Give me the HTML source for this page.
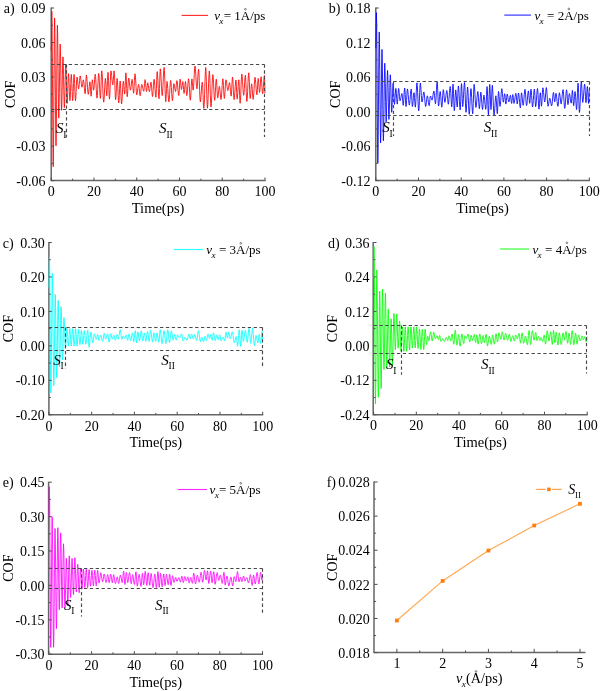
<!DOCTYPE html>
<html><head><meta charset="utf-8"><title>COF vs time</title>
<style>
html,body{margin:0;padding:0;background:#fff;}
svg{display:block;will-change:transform;opacity:0.999;}
svg text{font-family:"Liberation Serif", serif;font-size:14px;fill:#000;}
</style></head>
<body>
<svg width="602" height="691" viewBox="0 0 602 691">
<rect width="602" height="691" fill="#fff"/>
<path d="M51.20,7.50 V180.60 H265.50" stroke="#666666" stroke-width="1.50" fill="none" stroke-linecap="butt" stroke-linejoin="miter"/>
<polyline points="51.20,50.57 51.33,46.84 51.46,37.06 51.58,24.97 51.71,15.19 51.84,11.45 52.12,26.28 52.40,65.08 52.68,113.05 52.95,151.86 53.23,166.68 53.51,152.49 53.79,115.34 54.06,69.42 54.34,32.27 54.62,18.08 54.90,30.28 55.18,62.21 55.45,101.68 55.73,133.61 56.01,145.80 56.29,134.29 56.57,104.16 56.84,66.91 57.12,36.77 57.40,25.26 57.68,34.13 57.96,57.35 58.23,86.06 58.51,109.28 58.79,118.15 59.07,111.08 59.35,92.57 59.62,69.69 59.90,51.18 60.18,44.11 60.46,50.43 60.74,66.98 61.01,87.44 61.29,103.99 61.57,110.31 61.85,105.21 62.13,91.86 62.40,75.35 62.68,62.00 62.96,56.90 63.24,61.75 63.51,74.44 63.79,90.13 64.07,102.82 64.35,107.67 64.63,103.53 64.90,92.71 65.18,79.34 65.46,68.52 65.74,64.38 66.02,68.11 66.29,77.88 66.57,89.95 66.85,99.71 67.13,103.44 67.41,100.60 67.68,93.17 67.96,83.97 68.24,76.54 68.52,73.70 68.80,76.27 69.07,83.02 69.35,91.35 69.63,98.09 69.91,100.67 70.19,98.16 70.46,91.60 70.74,83.48 71.02,76.92 71.30,74.41 71.58,76.92 71.85,83.48 72.13,91.60 72.41,98.16 72.69,100.67 72.96,98.16 73.24,91.60 73.52,83.48 73.80,76.92 74.08,74.41 74.35,76.93 74.63,83.52 74.91,91.67 75.19,98.26 75.47,100.78 75.77,98.51 76.08,92.56 76.38,85.21 76.69,79.26 77.00,76.99 77.32,78.12 77.65,81.09 77.97,84.75 78.30,87.71 78.62,88.84 78.93,87.61 79.25,84.37 79.56,80.38 79.87,77.14 80.19,75.91 80.54,76.99 80.90,79.82 81.26,83.32 81.61,86.15 81.97,87.23 82.25,86.52 82.53,84.66 82.81,82.37 83.09,80.51 83.37,79.80 83.73,81.13 84.09,84.62 84.45,88.93 84.81,92.41 85.17,93.74 85.41,91.95 85.65,87.25 85.89,81.44 86.13,76.74 86.37,74.94 86.76,76.80 87.14,81.65 87.52,87.64 87.91,92.49 88.29,94.34 88.62,93.14 88.95,89.99 89.28,86.11 89.61,82.96 89.94,81.76 90.17,83.14 90.41,86.76 90.64,91.23 90.88,94.84 91.12,96.22 91.36,94.65 91.60,90.52 91.84,85.42 92.09,81.29 92.33,79.72 92.60,80.72 92.87,83.33 93.14,86.56 93.41,89.17 93.68,90.17 93.99,88.65 94.30,84.68 94.60,79.76 94.91,75.79 95.21,74.27 95.58,76.55 95.94,82.52 96.31,89.90 96.67,95.87 97.04,98.15 97.37,95.79 97.70,89.62 98.04,82.00 98.37,75.83 98.70,73.48 99.04,75.85 99.37,82.07 99.71,89.76 100.05,95.98 100.38,98.36 100.66,95.72 100.94,88.83 101.21,80.30 101.49,73.40 101.77,70.77 102.16,73.76 102.55,81.61 102.93,91.31 103.32,99.16 103.71,102.16 104.05,99.89 104.40,93.94 104.74,86.60 105.08,80.66 105.43,78.39 105.70,80.04 105.97,84.37 106.24,89.71 106.51,94.04 106.77,95.69 107.02,93.46 107.26,87.61 107.51,80.39 107.75,74.55 108.00,72.32 108.29,74.88 108.59,81.58 108.88,89.87 109.18,96.57 109.48,99.13 109.77,96.44 110.06,89.37 110.36,80.63 110.65,73.56 110.94,70.86 111.31,72.19 111.67,75.67 112.04,79.98 112.41,83.46 112.77,84.79 113.04,83.46 113.30,79.98 113.57,75.67 113.83,72.19 114.10,70.86 114.41,73.61 114.71,80.81 115.02,89.72 115.33,96.92 115.63,99.67 115.93,97.64 116.22,92.32 116.52,85.75 116.82,80.43 117.11,78.40 117.44,80.74 117.77,86.86 118.11,94.43 118.44,100.55 118.77,102.89 119.04,100.80 119.32,95.32 119.59,88.55 119.87,83.07 120.15,80.98 120.43,83.16 120.72,88.88 121.00,95.94 121.29,101.66 121.57,103.85 121.92,101.70 122.27,96.06 122.63,89.10 122.98,83.47 123.33,81.32 123.60,82.53 123.87,85.71 124.14,89.65 124.42,92.83 124.69,94.04 124.93,92.02 125.17,86.71 125.42,80.16 125.66,74.86 125.90,72.83 126.16,75.11 126.42,81.09 126.69,88.47 126.95,94.45 127.21,96.73 127.51,94.95 127.81,90.28 128.12,84.51 128.42,79.85 128.72,78.06 129.07,79.22 129.42,82.25 129.77,85.99 130.11,89.01 130.46,90.17 130.79,89.13 131.13,86.42 131.46,83.06 131.79,80.35 132.13,79.32 132.43,80.65 132.73,84.13 133.03,88.44 133.32,91.93 133.62,93.26 133.90,91.40 134.17,86.52 134.45,80.49 134.72,75.61 135.00,73.74 135.36,75.76 135.72,81.03 136.08,87.55 136.43,92.82 136.79,94.84 137.16,93.84 137.54,91.23 137.91,88.01 138.28,85.40 138.65,84.40 138.94,85.48 139.24,88.31 139.53,91.81 139.83,94.64 140.12,95.72 140.46,94.64 140.79,91.80 141.12,88.30 141.46,85.46 141.79,84.38 142.18,85.04 142.56,86.77 142.95,88.92 143.34,90.65 143.73,91.32 144.00,90.20 144.27,87.27 144.55,83.64 144.82,80.71 145.10,79.59 145.38,80.73 145.66,83.70 145.95,87.37 146.23,90.34 146.52,91.47 146.76,90.64 147.01,88.44 147.25,85.74 147.50,83.54 147.74,82.71 148.07,83.57 148.39,85.82 148.72,88.60 149.04,90.85 149.36,91.71 149.69,90.80 150.02,88.41 150.35,85.47 150.67,83.08 151.00,82.17 151.30,83.54 151.61,87.13 151.91,91.57 152.22,95.16 152.52,96.53 152.83,94.88 153.14,90.57 153.45,85.24 153.75,80.93 154.06,79.28 154.43,81.00 154.80,85.50 155.17,91.06 155.54,95.56 155.91,97.28 156.16,94.83 156.42,88.41 156.68,80.48 156.93,74.07 157.19,71.62 157.55,74.21 157.91,80.99 158.27,89.38 158.64,96.16 159.00,98.75 159.26,95.89 159.52,88.42 159.79,79.17 160.05,71.69 160.31,68.84 160.69,71.39 161.07,78.07 161.45,86.32 161.83,93.00 162.21,95.55 162.59,92.86 162.97,85.82 163.35,77.13 163.74,70.09 164.12,67.41 164.44,70.68 164.77,79.25 165.10,89.85 165.43,98.42 165.75,101.69 166.00,99.76 166.25,94.70 166.50,88.45 166.75,83.39 167.00,81.46 167.39,83.41 167.77,88.51 168.15,94.82 168.54,99.92 168.92,101.87 169.26,99.83 169.61,94.49 169.95,87.88 170.29,82.54 170.63,80.49 171.00,82.42 171.36,87.45 171.72,93.67 172.08,98.71 172.44,100.63 172.72,99.01 173.00,94.77 173.28,89.52 173.56,85.28 173.84,83.66 174.18,84.41 174.53,86.39 174.88,88.83 175.22,90.80 175.57,91.55 175.84,90.51 176.10,87.77 176.37,84.38 176.64,81.65 176.91,80.60 177.28,82.02 177.64,85.74 178.01,90.34 178.38,94.06 178.74,95.48 179.02,93.92 179.30,89.85 179.57,84.81 179.85,80.74 180.13,79.18 180.39,80.17 180.66,82.76 180.92,85.95 181.19,88.54 181.45,89.52 181.73,88.76 182.00,86.77 182.28,84.32 182.56,82.33 182.83,81.57 183.07,82.71 183.32,85.69 183.56,89.37 183.80,92.35 184.05,93.48 184.34,92.34 184.63,89.34 184.92,85.64 185.21,82.64 185.50,81.50 185.75,82.84 186.01,86.37 186.26,90.73 186.52,94.26 186.77,95.61 187.14,94.00 187.51,89.78 187.89,84.56 188.26,80.34 188.63,78.73 188.97,80.79 189.30,86.17 189.64,92.82 189.97,98.19 190.31,100.25 190.63,98.21 190.96,92.88 191.28,86.28 191.61,80.94 191.93,78.91 192.17,79.98 192.41,82.81 192.65,86.30 192.89,89.13 193.13,90.21 193.50,87.90 193.88,81.85 194.25,74.38 194.63,68.33 195.00,66.02 195.38,68.20 195.77,73.90 196.15,80.94 196.53,86.64 196.92,88.82 197.25,86.95 197.58,82.06 197.92,76.02 198.25,71.14 198.58,69.27 198.93,72.38 199.27,80.51 199.62,90.57 199.97,98.71 200.32,101.81 200.71,99.94 201.09,95.04 201.48,88.98 201.87,84.07 202.26,82.20 202.58,84.70 202.90,91.24 203.22,99.32 203.53,105.86 203.85,108.36 204.23,104.45 204.60,94.22 204.97,81.57 205.35,71.34 205.72,67.43 206.06,71.32 206.41,81.52 206.75,94.13 207.09,104.32 207.44,108.22 207.81,104.65 208.19,95.32 208.56,83.79 208.94,74.46 209.32,70.90 209.66,74.34 210.00,83.36 210.34,94.50 210.68,103.51 211.02,106.95 211.39,103.87 211.75,95.79 212.12,85.81 212.49,77.73 212.86,74.64 213.22,77.10 213.57,83.53 213.93,91.47 214.29,97.90 214.64,100.35 214.97,98.33 215.29,93.03 215.61,86.48 215.93,81.18 216.26,79.16 216.55,80.95 216.84,85.62 217.14,91.40 217.43,96.08 217.72,97.86 218.05,96.75 218.38,93.84 218.71,90.25 219.04,87.34 219.36,86.23 219.70,87.49 220.03,90.81 220.36,94.91 220.70,98.23 221.03,99.49 221.40,97.51 221.77,92.32 222.14,85.91 222.51,80.72 222.88,78.74 223.17,80.62 223.47,85.54 223.76,91.62 224.06,96.53 224.35,98.41 224.67,96.64 225.00,91.98 225.32,86.23 225.65,81.58 225.97,79.80 226.33,80.83 226.70,83.54 227.06,86.88 227.43,89.58 227.79,90.62 228.14,89.85 228.49,87.85 228.84,85.38 229.19,83.37 229.54,82.61 229.87,83.90 230.19,87.28 230.52,91.47 230.85,94.85 231.18,96.14 231.44,94.32 231.71,89.56 231.98,83.67 232.25,78.91 232.52,77.09 232.83,79.24 233.14,84.86 233.45,91.82 233.77,97.45 234.08,99.60 234.45,97.73 234.83,92.85 235.21,86.81 235.58,81.93 235.96,80.06 236.20,81.88 236.43,86.64 236.67,92.53 236.90,97.29 237.14,99.11 237.48,97.26 237.81,92.42 238.15,86.43 238.49,81.59 238.83,79.74 239.09,81.98 239.35,87.86 239.61,95.13 239.87,101.01 240.13,103.26 240.47,100.47 240.80,93.17 241.14,84.15 241.48,76.85 241.81,74.06 242.18,76.09 242.56,81.40 242.93,87.96 243.30,93.27 243.67,95.30 244.01,93.38 244.35,88.37 244.68,82.18 245.02,77.16 245.36,75.25 245.66,77.76 245.96,84.32 246.26,92.44 246.56,99.00 246.86,101.51 247.24,98.77 247.61,91.59 247.99,82.73 248.36,75.56 248.74,72.82 249.03,75.27 249.33,81.69 249.62,89.63 249.91,96.06 250.21,98.51 250.49,97.11 250.77,93.44 251.05,88.90 251.34,85.23 251.62,83.83 251.93,85.31 252.24,89.20 252.55,94.00 252.86,97.88 253.17,99.36 253.54,97.26 253.91,91.75 254.27,84.94 254.64,79.42 255.00,77.32 255.38,79.00 255.76,83.38 256.15,88.81 256.53,93.20 256.91,94.88 257.17,93.30 257.43,89.18 257.69,84.08 257.95,79.96 258.21,78.38 258.48,79.73 258.76,83.26 259.04,87.62 259.31,91.15 259.59,92.50 259.89,90.99 260.18,87.04 260.48,82.16 260.78,78.21 261.08,76.70 261.39,78.32 261.70,82.56 262.01,87.80 262.32,92.04 262.63,93.66 262.99,91.93 263.36,87.40 263.72,81.80 264.09,77.27 264.45,75.54 264.56,77.23 264.67,81.65 264.78,87.12 264.89,91.54 265.00,93.23" fill="none" stroke="#ff0000" stroke-width="0.85" stroke-linejoin="miter" stroke-miterlimit="3"/>
<path d="M51.2,64.5 H264.5" stroke="#484848" stroke-width="1.15" stroke-dasharray="3.3,2.55" fill="none"/>
<path d="M51.2,109.5 H264.5" stroke="#484848" stroke-width="1.15" stroke-dasharray="3.3,2.55" fill="none"/>
<path d="M66.5,64.5 V137.5" stroke="#484848" stroke-width="1.15" stroke-dasharray="3.3,2.55" fill="none"/>
<path d="M264.5,64.5 V137.0" stroke="#484848" stroke-width="1.15" stroke-dasharray="3.3,2.55" fill="none"/>
<path d="M51.20,180.60 h2.9" stroke="#4f4f4f" stroke-width="1.0"/>
<text x="45.4" y="185.7" text-anchor="end">-0.06</text>
<path d="M51.20,163.34 h1.9" stroke="#4f4f4f" stroke-width="1"/>
<path d="M51.20,146.08 h2.9" stroke="#4f4f4f" stroke-width="1.0"/>
<text x="45.4" y="151.2" text-anchor="end">-0.03</text>
<path d="M51.20,128.82 h1.9" stroke="#4f4f4f" stroke-width="1"/>
<path d="M51.20,111.56 h2.9" stroke="#4f4f4f" stroke-width="1.0"/>
<text x="45.4" y="116.7" text-anchor="end">0.00</text>
<path d="M51.20,94.30 h1.9" stroke="#4f4f4f" stroke-width="1"/>
<path d="M51.20,77.04 h2.9" stroke="#4f4f4f" stroke-width="1.0"/>
<text x="45.4" y="82.1" text-anchor="end">0.03</text>
<path d="M51.20,59.78 h1.9" stroke="#4f4f4f" stroke-width="1"/>
<path d="M51.20,42.52 h2.9" stroke="#4f4f4f" stroke-width="1.0"/>
<text x="45.4" y="47.6" text-anchor="end">0.06</text>
<path d="M51.20,25.26 h1.9" stroke="#4f4f4f" stroke-width="1"/>
<path d="M51.20,8.00 h2.9" stroke="#4f4f4f" stroke-width="1.0"/>
<text x="45.4" y="13.1" text-anchor="end">0.09</text>
<path d="M51.20,180.60 v-3.1" stroke="#4f4f4f" stroke-width="1.0"/>
<text x="51.2" y="196.3" text-anchor="middle">0</text>
<path d="M72.58,180.60 v-1.9" stroke="#4f4f4f" stroke-width="1"/>
<path d="M93.96,180.60 v-3.1" stroke="#4f4f4f" stroke-width="1.0"/>
<text x="94.0" y="196.3" text-anchor="middle">20</text>
<path d="M115.34,180.60 v-1.9" stroke="#4f4f4f" stroke-width="1"/>
<path d="M136.72,180.60 v-3.1" stroke="#4f4f4f" stroke-width="1.0"/>
<text x="136.7" y="196.3" text-anchor="middle">40</text>
<path d="M158.10,180.60 v-1.9" stroke="#4f4f4f" stroke-width="1"/>
<path d="M179.48,180.60 v-3.1" stroke="#4f4f4f" stroke-width="1.0"/>
<text x="179.5" y="196.3" text-anchor="middle">60</text>
<path d="M200.86,180.60 v-1.9" stroke="#4f4f4f" stroke-width="1"/>
<path d="M222.24,180.60 v-3.1" stroke="#4f4f4f" stroke-width="1.0"/>
<text x="222.2" y="196.3" text-anchor="middle">80</text>
<path d="M243.62,180.60 v-1.9" stroke="#4f4f4f" stroke-width="1"/>
<path d="M265.00,180.60 v-3.1" stroke="#4f4f4f" stroke-width="1.0"/>
<text x="265.0" y="196.3" text-anchor="middle">100</text>
<text x="3.7" y="13.0">a)</text>
<text transform="translate(15.3,94.3) rotate(-90)" text-anchor="middle">COF</text>
<text x="158.1" y="212.9" text-anchor="middle" style="font-size:14.5px">Time(ps)</text>
<path d="M181.6,15.4 H208.0" stroke="#ff0000" stroke-width="1.1" stroke-opacity="0.85"/>
<text x="214.20" y="20.25" style="font-size:13.0px;font-style:italic">v</text>
<text x="219.37" y="24.25" style="font-size:9.2px;font-style:italic">x</text>
<circle cx="245.43" cy="9.24" r="0.85" fill="none" stroke="#222" stroke-width="0.55"/>
<text x="223.66" y="20.25" style="font-size:13.0px" xml:space="preserve">= 1A/ps</text>
<text x="55.9" y="132.9" style="font-size:15px"><tspan font-style="italic">S</tspan><tspan style="font-size:9.5px" dy="4.6" dx="-0.2">I</tspan></text>
<text x="159.1" y="132.9" style="font-size:15px"><tspan font-style="italic">S</tspan><tspan style="font-size:9.5px" dy="4.6" dx="-0.2">II</tspan></text>
<path d="M375.80,7.50 V180.60 H589.80" stroke="#666666" stroke-width="1.50" fill="none" stroke-linecap="butt" stroke-linejoin="miter"/>
<polyline points="375.80,48.27 375.93,44.87 376.06,35.95 376.18,24.93 376.31,16.01 376.44,12.60 376.72,27.00 377.00,64.68 377.27,111.26 377.55,148.95 377.83,163.34 378.11,150.80 378.38,117.96 378.66,77.37 378.94,44.54 379.22,31.99 379.49,42.58 379.77,70.30 380.05,104.56 380.33,132.28 380.60,142.87 380.88,133.95 381.16,110.59 381.44,81.71 381.71,58.35 381.99,49.42 382.27,58.14 382.55,80.97 382.82,109.18 383.10,132.01 383.38,140.72 383.66,133.33 383.93,113.95 384.21,90.01 384.49,70.63 384.77,63.23 385.04,68.83 385.32,83.48 385.60,101.59 385.88,116.25 386.15,121.84 386.43,116.94 386.71,104.09 386.99,88.20 387.26,75.35 387.54,70.45 387.82,75.13 388.10,87.38 388.38,102.53 388.65,114.78 388.93,119.46 389.21,115.20 389.49,104.04 389.76,90.24 390.04,79.08 390.32,74.82 390.60,78.40 390.87,87.78 391.15,99.37 391.43,108.75 391.71,112.33 391.98,109.56 392.26,102.32 392.54,93.37 392.82,86.13 393.09,83.37 393.37,85.38 393.65,90.63 393.93,97.13 394.20,102.39 394.48,104.40 394.76,102.87 395.04,98.88 395.31,93.94 395.59,89.94 395.87,88.42 396.15,89.91 396.42,93.84 396.70,98.68 396.98,102.60 397.26,104.10 397.53,102.60 397.81,98.68 398.09,93.84 398.37,89.91 398.64,88.42 398.92,89.60 399.20,92.69 399.48,96.52 399.75,99.61 400.03,100.79 400.42,100.09 400.81,98.26 401.20,95.99 401.59,94.16 401.97,93.46 402.23,94.59 402.48,97.56 402.73,101.22 402.98,104.19 403.23,105.32 403.52,103.67 403.81,99.34 404.09,93.98 404.38,89.65 404.67,88.00 404.94,89.77 405.21,94.40 405.48,100.14 405.74,104.77 406.01,106.54 406.30,104.86 406.58,100.46 406.86,95.02 407.14,90.61 407.43,88.93 407.81,90.47 408.18,94.51 408.56,99.50 408.94,103.54 409.32,105.08 409.69,103.55 410.07,99.56 410.45,94.62 410.82,90.63 411.20,89.10 411.44,90.76 411.68,95.11 411.92,100.49 412.16,104.84 412.40,106.50 412.73,105.18 413.05,101.73 413.38,97.46 413.70,94.01 414.03,92.69 414.29,94.07 414.55,97.68 414.82,102.13 415.08,105.74 415.34,107.11 415.67,104.80 415.99,98.73 416.31,91.23 416.64,85.16 416.96,82.84 417.31,85.51 417.67,92.50 418.02,101.14 418.37,108.13 418.73,110.80 419.05,108.14 419.37,101.20 419.69,92.61 420.01,85.66 420.33,83.01 420.66,84.82 420.99,89.56 421.32,95.41 421.65,100.15 421.98,101.96 422.36,101.01 422.74,98.51 423.12,95.42 423.50,92.92 423.88,91.96 424.24,93.35 424.59,96.98 424.95,101.47 425.30,105.10 425.66,106.49 425.99,105.47 426.33,102.81 426.66,99.51 426.99,96.85 427.33,95.83 427.69,96.78 428.05,99.26 428.41,102.32 428.77,104.80 429.14,105.74 429.40,104.81 429.66,102.37 429.92,99.36 430.18,96.93 430.45,96.00 430.76,96.39 431.08,97.42 431.39,98.70 431.71,99.73 432.02,100.13 432.40,99.27 432.78,97.02 433.16,94.24 433.53,91.99 433.91,91.13 434.22,92.34 434.54,95.52 434.85,99.45 435.16,102.62 435.48,103.83 435.81,101.73 436.15,96.23 436.48,89.43 436.82,83.93 437.16,81.83 437.44,84.14 437.72,90.19 438.00,97.67 438.28,103.72 438.56,106.03 438.88,104.64 439.21,101.01 439.53,96.52 439.86,92.88 440.18,91.49 440.50,92.99 440.83,96.92 441.16,101.76 441.48,105.69 441.81,107.19 442.11,105.51 442.41,101.13 442.71,95.71 443.01,91.33 443.31,89.65 443.63,90.87 443.94,94.06 444.26,98.01 444.57,101.20 444.89,102.42 445.27,101.28 445.66,98.28 446.05,94.59 446.44,91.60 446.83,90.45 447.13,91.77 447.43,95.21 447.73,99.46 448.03,102.90 448.33,104.22 448.71,102.53 449.08,98.11 449.46,92.64 449.84,88.22 450.22,86.53 450.53,88.47 450.84,93.53 451.15,99.79 451.47,104.86 451.78,106.79 452.03,104.63 452.28,98.96 452.52,91.95 452.77,86.28 453.02,84.11 453.28,86.64 453.54,93.27 453.80,101.47 454.06,108.10 454.32,110.63 454.61,108.65 454.89,103.47 455.18,97.07 455.47,91.90 455.76,89.92 456.04,91.55 456.33,95.82 456.62,101.09 456.91,105.36 457.20,106.99 457.44,104.98 457.68,99.72 457.92,93.23 458.16,87.97 458.39,85.96 458.75,88.25 459.11,94.23 459.46,101.61 459.82,107.59 460.18,109.88 460.44,107.37 460.71,100.80 460.97,92.68 461.24,86.12 461.50,83.61 461.74,85.80 461.98,91.54 462.22,98.64 462.47,104.38 462.71,106.58 463.07,104.28 463.43,98.27 463.79,90.84 464.15,84.83 464.52,82.53 464.82,85.37 465.13,92.81 465.43,101.99 465.73,109.43 466.04,112.27 466.35,109.85 466.66,103.54 466.97,95.73 467.28,89.41 467.59,87.00 467.92,89.61 468.24,96.44 468.56,104.88 468.89,111.71 469.21,114.32 469.56,111.87 469.91,105.44 470.26,97.50 470.61,91.07 470.96,88.62 471.30,91.02 471.65,97.30 471.99,105.07 472.34,111.36 472.69,113.76 472.98,110.95 473.26,103.61 473.55,94.53 473.84,87.19 474.13,84.38 474.49,86.58 474.85,92.35 475.21,99.48 475.57,105.24 475.93,107.44 476.31,105.92 476.69,101.94 477.07,97.02 477.45,93.04 477.83,91.52 478.14,93.15 478.45,97.44 478.76,102.73 479.07,107.01 479.38,108.65 479.67,107.07 479.96,102.94 480.24,97.83 480.53,93.69 480.81,92.12 481.15,93.77 481.50,98.12 481.84,103.48 482.18,107.83 482.52,109.48 482.79,108.12 483.07,104.53 483.34,100.11 483.62,96.53 483.89,95.16 484.28,96.51 484.66,100.04 485.04,104.41 485.43,107.94 485.81,109.29 486.06,107.12 486.31,101.45 486.56,94.44 486.82,88.77 487.07,86.60 487.34,89.30 487.61,96.34 487.89,105.06 488.16,112.11 488.43,114.80 488.69,111.90 488.95,104.29 489.21,94.90 489.48,87.30 489.74,84.39 489.98,86.80 490.23,93.09 490.48,100.87 490.73,107.17 490.98,109.58 491.24,107.26 491.51,101.21 491.77,93.72 492.04,87.66 492.31,85.35 492.65,88.24 493.00,95.81 493.35,105.16 493.69,112.73 494.04,115.62 494.40,113.73 494.77,108.77 495.13,102.63 495.49,97.67 495.86,95.78 496.15,97.48 496.44,101.94 496.73,107.45 497.02,111.90 497.32,113.61 497.55,111.50 497.79,105.97 498.03,99.14 498.27,93.62 498.51,91.51 498.82,92.92 499.13,96.63 499.43,101.22 499.74,104.92 500.05,106.34 500.40,104.65 500.75,100.22 501.10,94.75 501.45,90.33 501.80,88.64 502.11,89.93 502.41,93.32 502.72,97.51 503.02,100.89 503.33,102.19 503.60,101.38 503.87,99.26 504.14,96.64 504.40,94.52 504.67,93.71 504.92,94.71 505.16,97.30 505.40,100.51 505.65,103.11 505.89,104.10 506.15,103.15 506.41,100.65 506.66,97.57 506.92,95.08 507.18,94.12 507.51,94.88 507.85,96.85 508.18,99.28 508.51,101.26 508.85,102.01 509.16,101.37 509.47,99.69 509.78,97.61 510.09,95.93 510.40,95.29 510.64,96.07 510.88,98.10 511.12,100.62 511.36,102.66 511.60,103.44 511.84,102.59 512.07,100.35 512.31,97.59 512.55,95.36 512.79,94.51 513.02,95.36 513.25,97.61 513.49,100.38 513.72,102.62 513.96,103.48 514.34,102.51 514.73,99.97 515.11,96.83 515.50,94.29 515.89,93.32 516.16,94.34 516.43,96.99 516.70,100.27 516.96,102.92 517.23,103.93 517.49,102.89 517.74,100.16 518.00,96.78 518.25,94.04 518.51,93.00 518.88,94.42 519.24,98.14 519.61,102.73 519.98,106.45 520.35,107.87 520.58,106.44 520.81,102.68 521.05,98.03 521.28,94.27 521.52,92.83 521.85,94.03 522.18,97.14 522.52,100.99 522.85,104.11 523.18,105.30 523.54,103.78 523.90,99.79 524.26,94.86 524.61,90.87 524.97,89.35 525.29,90.90 525.61,94.95 525.93,99.96 526.25,104.02 526.57,105.57 526.93,104.17 527.30,100.50 527.66,95.97 528.03,92.30 528.39,90.90 528.65,92.09 528.92,95.19 529.18,99.03 529.44,102.14 529.70,103.33 529.96,101.98 530.22,98.46 530.48,94.10 530.73,90.58 530.99,89.23 531.30,90.93 531.62,95.38 531.93,100.89 532.24,105.34 532.55,107.04 532.91,105.32 533.27,100.81 533.63,95.24 533.99,90.73 534.35,89.01 534.62,90.69 534.88,95.11 535.14,100.57 535.41,104.99 535.67,106.67 536.04,104.94 536.41,100.41 536.78,94.80 537.14,90.27 537.51,88.53 537.81,90.50 538.10,95.65 538.39,102.02 538.69,107.18 538.98,109.14 539.24,107.58 539.51,103.48 539.77,98.41 540.03,94.31 540.30,92.75 540.54,94.03 540.78,97.39 541.02,101.55 541.26,104.91 541.50,106.19 541.77,104.44 542.04,99.84 542.31,94.17 542.58,89.57 542.85,87.82 543.24,89.17 543.62,92.71 544.00,97.09 544.39,100.63 544.77,101.98 545.09,100.61 545.41,97.01 545.73,92.57 546.05,88.98 546.37,87.60 546.70,89.38 547.02,94.04 547.35,99.81 547.67,104.47 548.00,106.25 548.35,105.49 548.71,103.49 549.06,101.03 549.41,99.04 549.76,98.28 550.14,99.00 550.52,100.91 550.90,103.27 551.29,105.17 551.67,105.90 552.02,104.61 552.38,101.24 552.74,97.07 553.10,93.70 553.46,92.41 553.71,93.31 553.96,95.66 554.20,98.57 554.45,100.92 554.70,101.82 554.96,101.01 555.22,98.88 555.48,96.24 555.74,94.11 556.00,93.29 556.38,94.54 556.76,97.79 557.14,101.81 557.52,105.06 557.90,106.30 558.20,105.01 558.49,101.62 558.79,97.44 559.09,94.05 559.39,92.76 559.73,93.82 560.08,96.61 560.43,100.06 560.78,102.84 561.13,103.91 561.51,102.54 561.89,98.96 562.28,94.54 562.66,90.97 563.05,89.60 563.39,91.39 563.74,96.07 564.08,101.86 564.43,106.54 564.78,108.32 565.13,106.56 565.49,101.94 565.85,96.22 566.21,91.60 566.56,89.83 566.85,91.24 567.13,94.94 567.41,99.51 567.70,103.21 567.98,104.62 568.25,103.56 568.52,100.78 568.79,97.34 569.06,94.55 569.33,93.49 569.71,94.42 570.09,96.84 570.46,99.83 570.84,102.25 571.22,103.17 571.45,101.96 571.69,98.77 571.93,94.84 572.16,91.65 572.40,90.43 572.65,91.90 572.90,95.72 573.15,100.45 573.40,104.28 573.65,105.74 573.93,104.39 574.22,100.85 574.50,96.47 574.79,92.93 575.07,91.57 575.38,93.29 575.69,97.78 575.99,103.34 576.30,107.83 576.61,109.55 576.90,107.04 577.18,100.46 577.47,92.32 577.76,85.74 578.05,83.23 578.33,86.02 578.61,93.33 578.89,102.36 579.17,109.67 579.45,112.46 579.82,109.52 580.19,101.83 580.56,92.31 580.93,84.61 581.30,81.67 581.59,83.66 581.88,88.85 582.17,95.26 582.47,100.45 582.76,102.43 583.14,100.69 583.52,96.12 583.90,90.47 584.28,85.90 584.66,84.16 584.93,85.93 585.20,90.56 585.46,96.28 585.73,100.91 586.00,102.68 586.27,101.14 586.54,97.09 586.81,92.09 587.08,88.05 587.35,86.51 587.60,88.13 587.86,92.38 588.11,97.63 588.37,101.89 588.62,103.51 588.76,102.26 588.89,98.97 589.03,94.91 589.16,91.63 589.30,90.38" fill="none" stroke="#0000ff" stroke-width="0.85" stroke-linejoin="miter" stroke-miterlimit="3"/>
<path d="M375.8,81.5 H589.5" stroke="#484848" stroke-width="1.15" stroke-dasharray="3.3,2.55" fill="none"/>
<path d="M375.8,115.5 H589.5" stroke="#484848" stroke-width="1.15" stroke-dasharray="3.3,2.55" fill="none"/>
<path d="M393.5,81.5 V136.0" stroke="#484848" stroke-width="1.15" stroke-dasharray="3.3,2.55" fill="none"/>
<path d="M589.5,81.5 V136.0" stroke="#484848" stroke-width="1.15" stroke-dasharray="3.3,2.55" fill="none"/>
<path d="M375.80,180.60 h2.9" stroke="#4f4f4f" stroke-width="1.0"/>
<text x="370.5" y="185.7" text-anchor="end">-0.12</text>
<path d="M375.80,163.34 h1.9" stroke="#4f4f4f" stroke-width="1"/>
<path d="M375.80,146.08 h2.9" stroke="#4f4f4f" stroke-width="1.0"/>
<text x="370.5" y="151.2" text-anchor="end">-0.06</text>
<path d="M375.80,128.82 h1.9" stroke="#4f4f4f" stroke-width="1"/>
<path d="M375.80,111.56 h2.9" stroke="#4f4f4f" stroke-width="1.0"/>
<text x="370.5" y="116.7" text-anchor="end">0.00</text>
<path d="M375.80,94.30 h1.9" stroke="#4f4f4f" stroke-width="1"/>
<path d="M375.80,77.04 h2.9" stroke="#4f4f4f" stroke-width="1.0"/>
<text x="370.5" y="82.1" text-anchor="end">0.06</text>
<path d="M375.80,59.78 h1.9" stroke="#4f4f4f" stroke-width="1"/>
<path d="M375.80,42.52 h2.9" stroke="#4f4f4f" stroke-width="1.0"/>
<text x="370.5" y="47.6" text-anchor="end">0.12</text>
<path d="M375.80,25.26 h1.9" stroke="#4f4f4f" stroke-width="1"/>
<path d="M375.80,8.00 h2.9" stroke="#4f4f4f" stroke-width="1.0"/>
<text x="370.5" y="13.1" text-anchor="end">0.18</text>
<path d="M375.80,180.60 v-3.1" stroke="#4f4f4f" stroke-width="1.0"/>
<text x="375.8" y="196.3" text-anchor="middle">0</text>
<path d="M397.15,180.60 v-1.9" stroke="#4f4f4f" stroke-width="1"/>
<path d="M418.50,180.60 v-3.1" stroke="#4f4f4f" stroke-width="1.0"/>
<text x="418.5" y="196.3" text-anchor="middle">20</text>
<path d="M439.85,180.60 v-1.9" stroke="#4f4f4f" stroke-width="1"/>
<path d="M461.20,180.60 v-3.1" stroke="#4f4f4f" stroke-width="1.0"/>
<text x="461.2" y="196.3" text-anchor="middle">40</text>
<path d="M482.55,180.60 v-1.9" stroke="#4f4f4f" stroke-width="1"/>
<path d="M503.90,180.60 v-3.1" stroke="#4f4f4f" stroke-width="1.0"/>
<text x="503.9" y="196.3" text-anchor="middle">60</text>
<path d="M525.25,180.60 v-1.9" stroke="#4f4f4f" stroke-width="1"/>
<path d="M546.60,180.60 v-3.1" stroke="#4f4f4f" stroke-width="1.0"/>
<text x="546.6" y="196.3" text-anchor="middle">80</text>
<path d="M567.95,180.60 v-1.9" stroke="#4f4f4f" stroke-width="1"/>
<path d="M589.30,180.60 v-3.1" stroke="#4f4f4f" stroke-width="1.0"/>
<text x="589.3" y="196.3" text-anchor="middle">100</text>
<text x="328.7" y="13.0">b)</text>
<text transform="translate(339.7,94.3) rotate(-90)" text-anchor="middle">COF</text>
<text x="482.5" y="212.9" text-anchor="middle" style="font-size:14.5px">Time(ps)</text>
<path d="M504.3,15.1 H531.0" stroke="#0000ff" stroke-width="1.1" stroke-opacity="0.85"/>
<text x="534.40" y="19.90" style="font-size:13.0px;font-style:italic">v</text>
<text x="539.57" y="23.90" style="font-size:9.2px;font-style:italic">x</text>
<circle cx="568.88" cy="8.89" r="0.85" fill="none" stroke="#222" stroke-width="0.55"/>
<text x="543.86" y="19.90" style="font-size:13.0px" xml:space="preserve"> = 2A/ps</text>
<text x="382.2" y="132.1" style="font-size:15px"><tspan font-style="italic">S</tspan><tspan style="font-size:9.5px" dy="4.6" dx="-0.2">I</tspan></text>
<text x="483.8" y="132.1" style="font-size:15px"><tspan font-style="italic">S</tspan><tspan style="font-size:9.5px" dy="4.6" dx="-0.2">II</tspan></text>
<path d="M48.90,242.00 V414.80 H263.20" stroke="#666666" stroke-width="1.50" fill="none" stroke-linecap="butt" stroke-linejoin="miter"/>
<polyline points="48.90,287.30 49.01,284.43 49.11,276.91 49.22,267.61 49.33,260.09 49.43,257.22 49.73,270.18 50.02,304.11 50.31,346.05 50.60,379.97 50.89,392.93 51.18,381.52 51.47,351.63 51.76,314.69 52.05,284.80 52.34,273.38 52.63,284.11 52.92,312.18 53.21,346.87 53.51,374.94 53.80,385.67 54.09,376.94 54.38,354.11 54.67,325.88 54.96,303.05 55.25,294.33 55.54,302.27 55.83,323.07 56.12,348.78 56.41,369.57 56.70,377.52 56.99,370.16 57.29,350.90 57.58,327.09 57.87,307.83 58.16,300.47 58.45,306.80 58.74,323.38 59.03,343.86 59.32,360.44 59.61,366.77 59.90,361.02 60.19,345.97 60.48,327.36 60.77,312.30 61.07,306.55 61.36,311.62 61.65,324.91 61.94,341.33 62.23,354.61 62.52,359.68 62.81,355.66 63.10,345.13 63.39,332.11 63.68,321.58 63.97,317.56 64.26,320.51 64.55,328.22 64.85,337.76 65.14,345.48 65.43,348.43 65.72,346.49 66.01,341.43 66.30,335.17 66.59,330.11 66.88,328.18 67.17,329.88 67.46,334.35 67.75,339.87 68.04,344.33 68.33,346.03 68.63,344.37 68.92,340.03 69.21,334.66 69.50,330.31 69.79,328.65 70.08,330.32 70.37,334.67 70.66,340.05 70.95,344.41 71.24,346.07 71.53,344.41 71.82,340.05 72.11,334.67 72.41,330.32 72.70,328.65 72.99,330.32 73.28,334.67 73.57,340.05 73.86,344.41 74.15,346.07 74.44,344.41 74.73,340.05 75.02,334.67 75.31,330.32 75.60,328.65 75.89,330.32 76.19,334.67 76.48,340.05 76.77,344.41 77.06,346.07 77.35,344.48 77.64,340.30 77.93,335.13 78.22,330.96 78.51,329.36 78.80,330.82 79.09,334.63 79.38,339.35 79.67,343.17 79.97,344.62 80.26,343.26 80.55,339.71 80.84,335.31 81.13,331.75 81.42,330.39 81.71,331.72 82.00,335.21 82.29,339.51 82.58,343.00 82.87,344.33 83.16,343.02 83.45,339.58 83.75,335.34 84.04,331.90 84.33,330.59 84.62,331.89 84.91,335.29 85.19,339.49 85.48,342.89 85.77,344.18 86.16,342.84 86.55,339.31 86.94,334.95 87.33,331.42 87.72,330.08 87.99,331.72 88.27,336.01 88.54,341.32 88.82,345.62 89.09,347.26 89.44,345.82 89.78,342.03 90.13,337.36 90.47,333.58 90.82,332.13 91.22,333.16 91.62,335.87 92.02,339.20 92.42,341.91 92.82,342.94 93.14,342.05 93.46,339.73 93.77,336.86 94.09,334.54 94.41,333.66 94.76,334.19 95.10,335.59 95.45,337.32 95.80,338.72 96.15,339.25 96.44,338.80 96.74,337.61 97.03,336.14 97.33,334.94 97.62,334.49 97.87,335.06 98.13,336.55 98.38,338.39 98.63,339.88 98.88,340.45 99.25,339.93 99.61,338.58 99.98,336.91 100.34,335.56 100.70,335.04 101.09,335.65 101.47,337.25 101.85,339.23 102.23,340.83 102.62,341.44 102.95,340.66 103.28,338.62 103.62,336.11 103.95,334.07 104.29,333.29 104.55,333.87 104.82,335.37 105.08,337.23 105.34,338.73 105.61,339.30 106.01,338.77 106.41,337.37 106.82,335.64 107.22,334.24 107.62,333.71 107.90,334.50 108.18,336.59 108.46,339.16 108.74,341.25 109.02,342.04 109.39,341.25 109.75,339.18 110.12,336.61 110.48,334.54 110.85,333.74 111.15,334.27 111.44,335.64 111.74,337.33 112.04,338.71 112.33,339.23 112.62,338.83 112.91,337.79 113.20,336.50 113.49,335.45 113.78,335.06 114.11,335.55 114.44,336.85 114.77,338.45 115.10,339.74 115.43,340.23 115.73,339.69 116.04,338.28 116.35,336.53 116.66,335.12 116.97,334.58 117.23,335.02 117.49,336.17 117.75,337.59 118.02,338.74 118.28,339.18 118.67,338.27 119.05,335.88 119.44,332.94 119.82,330.56 120.21,329.65 120.55,330.57 120.88,332.98 121.22,335.97 121.55,338.38 121.89,339.30 122.16,338.97 122.42,338.09 122.69,337.00 122.96,336.12 123.23,335.78 123.53,336.03 123.82,336.68 124.12,337.49 124.41,338.14 124.71,338.39 125.00,338.06 125.29,337.20 125.58,336.13 125.87,335.27 126.15,334.94 126.43,335.45 126.71,336.79 126.98,338.44 127.26,339.78 127.53,340.29 127.85,339.67 128.17,338.06 128.49,336.06 128.81,334.45 129.13,333.83 129.43,334.49 129.73,336.19 130.03,338.30 130.34,340.01 130.64,340.66 131.01,339.92 131.38,337.96 131.76,335.55 132.13,333.60 132.50,332.86 132.76,333.70 133.01,335.89 133.27,338.61 133.52,340.80 133.78,341.64 134.08,340.60 134.39,337.88 134.70,334.51 135.00,331.78 135.31,330.74 135.57,331.91 135.83,334.95 136.09,338.71 136.36,341.75 136.62,342.91 136.87,341.86 137.11,339.10 137.36,335.69 137.61,332.93 137.85,331.88 138.17,332.74 138.49,334.98 138.80,337.76 139.12,340.01 139.44,340.87 139.82,339.90 140.21,337.36 140.60,334.22 140.99,331.68 141.38,330.71 141.65,331.69 141.92,334.24 142.19,337.40 142.46,339.95 142.73,340.93 143.08,340.17 143.42,338.18 143.77,335.72 144.11,333.74 144.45,332.98 144.71,333.78 144.97,335.88 145.23,338.47 145.49,340.57 145.75,341.37 146.11,340.42 146.47,337.94 146.84,334.87 147.20,332.39 147.56,331.44 147.87,332.40 148.19,334.89 148.50,337.98 148.81,340.47 149.13,341.42 149.41,340.36 149.70,337.57 149.99,334.12 150.27,331.33 150.56,330.26 150.96,331.37 151.36,334.28 151.76,337.87 152.16,340.77 152.56,341.88 152.81,341.01 153.06,338.74 153.31,335.92 153.55,333.65 153.80,332.78 154.18,333.59 154.55,335.72 154.93,338.36 155.30,340.49 155.68,341.30 155.94,340.50 156.20,338.39 156.46,335.78 156.72,333.67 156.98,332.87 157.34,333.76 157.70,336.10 158.06,339.00 158.42,341.34 158.78,342.23 159.08,341.04 159.37,337.92 159.66,334.06 159.95,330.94 160.24,329.75 160.61,331.08 160.98,334.56 161.34,338.86 161.71,342.34 162.08,343.67 162.46,342.42 162.84,339.14 163.22,335.09 163.60,331.81 163.98,330.56 164.35,331.81 164.73,335.09 165.11,339.14 165.48,342.42 165.86,343.67 166.24,342.35 166.63,338.88 167.02,334.61 167.40,331.14 167.79,329.82 168.13,331.04 168.47,334.23 168.81,338.17 169.15,341.36 169.49,342.58 169.87,341.45 170.25,338.50 170.63,334.85 171.02,331.89 171.40,330.76 171.76,331.67 172.12,334.06 172.48,337.00 172.85,339.39 173.21,340.30 173.47,339.73 173.73,338.23 173.99,336.38 174.24,334.88 174.50,334.31 174.84,334.87 175.18,336.33 175.52,338.13 175.86,339.59 176.20,340.15 176.48,339.64 176.75,338.33 177.03,336.71 177.31,335.39 177.58,334.89 177.98,335.19 178.38,335.98 178.78,336.95 179.18,337.74 179.58,338.04 179.97,337.64 180.37,336.61 180.76,335.33 181.16,334.30 181.55,333.91 181.89,334.59 182.23,336.37 182.57,338.57 182.90,340.36 183.24,341.04 183.60,340.66 183.95,339.69 184.31,338.48 184.66,337.50 185.02,337.13 185.41,337.43 185.81,338.23 186.21,339.23 186.60,340.03 187.00,340.33 187.40,339.73 187.79,338.14 188.18,336.17 188.58,334.58 188.97,333.97 189.24,334.44 189.50,335.66 189.77,337.16 190.04,338.39 190.30,338.85 190.55,338.38 190.80,337.15 191.05,335.63 191.29,334.41 191.54,333.94 191.91,334.42 192.29,335.68 192.66,337.23 193.03,338.49 193.41,338.97 193.67,338.55 193.93,337.42 194.19,336.03 194.46,334.91 194.72,334.48 195.09,335.05 195.47,336.54 195.84,338.39 196.22,339.88 196.59,340.45 196.98,339.51 197.36,337.07 197.75,334.04 198.13,331.60 198.52,330.66 198.89,331.71 199.25,334.47 199.62,337.88 199.99,340.64 200.35,341.69 200.60,341.24 200.85,340.06 201.10,338.60 201.34,337.41 201.59,336.96 201.97,337.41 202.36,338.59 202.74,340.04 203.13,341.21 203.51,341.66 203.81,341.12 204.11,339.71 204.40,337.97 204.70,336.56 205.00,336.03 205.30,336.48 205.60,337.67 205.89,339.14 206.19,340.33 206.49,340.78 206.82,340.13 207.14,338.40 207.47,336.28 207.79,334.55 208.12,333.90 208.39,334.36 208.67,335.58 208.95,337.08 209.23,338.29 209.50,338.76 209.78,338.35 210.06,337.26 210.33,335.93 210.61,334.84 210.89,334.43 211.15,334.98 211.41,336.42 211.67,338.20 211.93,339.64 212.19,340.19 212.46,339.48 212.72,337.61 212.99,335.31 213.25,333.45 213.52,332.74 213.85,333.49 214.18,335.46 214.52,337.90 214.85,339.88 215.18,340.63 215.53,340.07 215.88,338.61 216.23,336.81 216.58,335.35 216.93,334.80 217.17,335.27 217.42,336.52 217.67,338.06 217.92,339.31 218.17,339.79 218.46,339.30 218.76,338.04 219.06,336.48 219.36,335.22 219.66,334.73 219.95,335.33 220.23,336.88 220.52,338.81 220.80,340.36 221.09,340.96 221.47,340.57 221.85,339.57 222.23,338.33 222.61,337.32 222.99,336.94 223.31,337.32 223.62,338.34 223.94,339.59 224.26,340.61 224.57,340.99 224.87,340.17 225.16,338.00 225.45,335.32 225.74,333.15 226.03,332.32 226.31,332.89 226.59,334.36 226.87,336.18 227.15,337.66 227.43,338.22 227.70,337.61 227.97,336.02 228.24,334.05 228.51,332.46 228.78,331.85 229.08,332.51 229.38,334.25 229.68,336.40 229.98,338.14 230.28,338.81 230.69,338.14 231.09,336.40 231.49,334.24 231.89,332.50 232.30,331.84 232.70,332.90 233.10,335.69 233.50,339.13 233.90,341.91 234.30,342.98 234.67,342.36 235.05,340.73 235.42,338.73 235.80,337.10 236.18,336.48 236.46,337.42 236.74,339.86 237.02,342.88 237.31,345.33 237.59,346.26 237.92,344.68 238.25,340.55 238.58,335.45 238.90,331.32 239.23,329.74 239.54,331.34 239.85,335.50 240.15,340.66 240.46,344.83 240.77,346.42 241.02,344.88 241.28,340.85 241.54,335.86 241.79,331.83 242.05,330.29 242.33,331.37 242.60,334.18 242.88,337.66 243.15,340.48 243.43,341.55 243.81,340.48 244.20,337.66 244.59,334.18 244.98,331.36 245.37,330.28 245.74,331.42 246.12,334.41 246.50,338.10 246.87,341.08 247.25,342.22 247.61,340.88 247.98,337.36 248.34,333.01 248.70,329.50 249.06,328.15 249.41,329.60 249.76,333.39 250.10,338.07 250.45,341.86 250.80,343.31 251.15,341.86 251.50,338.07 251.86,333.39 252.21,329.60 252.56,328.15 252.94,329.82 253.31,334.17 253.69,339.56 254.06,343.91 254.44,345.58 254.74,344.60 255.05,342.05 255.36,338.89 255.67,336.34 255.98,335.37 256.35,336.09 256.72,337.97 257.09,340.31 257.46,342.19 257.83,342.91 258.11,342.09 258.39,339.94 258.67,337.28 258.95,335.12 259.23,334.30 259.50,335.18 259.77,337.48 260.04,340.32 260.31,342.62 260.58,343.49 260.90,342.33 261.23,339.29 261.55,335.54 261.87,332.50 262.19,331.34 262.29,332.38 262.40,335.11 262.50,338.47 262.60,341.20 262.70,342.24" fill="none" stroke="#00ffff" stroke-width="0.85" stroke-linejoin="miter" stroke-miterlimit="3"/>
<path d="M48.9,327.5 H262.5" stroke="#484848" stroke-width="1.15" stroke-dasharray="3.3,2.55" fill="none"/>
<path d="M48.9,350.5 H262.5" stroke="#484848" stroke-width="1.15" stroke-dasharray="3.3,2.55" fill="none"/>
<path d="M65.5,327.5 V368.7" stroke="#484848" stroke-width="1.15" stroke-dasharray="3.3,2.55" fill="none"/>
<path d="M262.5,327.5 V368.5" stroke="#484848" stroke-width="1.15" stroke-dasharray="3.3,2.55" fill="none"/>
<path d="M48.90,414.80 h2.9" stroke="#4f4f4f" stroke-width="1.0"/>
<text x="44.8" y="419.9" text-anchor="end">-0.20</text>
<path d="M48.90,397.57 h1.9" stroke="#4f4f4f" stroke-width="1"/>
<path d="M48.90,380.34 h2.9" stroke="#4f4f4f" stroke-width="1.0"/>
<text x="44.8" y="385.4" text-anchor="end">-0.10</text>
<path d="M48.90,363.11 h1.9" stroke="#4f4f4f" stroke-width="1"/>
<path d="M48.90,345.88 h2.9" stroke="#4f4f4f" stroke-width="1.0"/>
<text x="44.8" y="351.0" text-anchor="end">0.00</text>
<path d="M48.90,328.65 h1.9" stroke="#4f4f4f" stroke-width="1"/>
<path d="M48.90,311.42 h2.9" stroke="#4f4f4f" stroke-width="1.0"/>
<text x="44.8" y="316.5" text-anchor="end">0.10</text>
<path d="M48.90,294.19 h1.9" stroke="#4f4f4f" stroke-width="1"/>
<path d="M48.90,276.96 h2.9" stroke="#4f4f4f" stroke-width="1.0"/>
<text x="44.8" y="282.1" text-anchor="end">0.20</text>
<path d="M48.90,259.73 h1.9" stroke="#4f4f4f" stroke-width="1"/>
<path d="M48.90,242.50 h2.9" stroke="#4f4f4f" stroke-width="1.0"/>
<text x="44.8" y="247.6" text-anchor="end">0.30</text>
<path d="M48.90,414.80 v-3.1" stroke="#4f4f4f" stroke-width="1.0"/>
<text x="48.9" y="430.5" text-anchor="middle">0</text>
<path d="M70.28,414.80 v-1.9" stroke="#4f4f4f" stroke-width="1"/>
<path d="M91.66,414.80 v-3.1" stroke="#4f4f4f" stroke-width="1.0"/>
<text x="91.7" y="430.5" text-anchor="middle">20</text>
<path d="M113.04,414.80 v-1.9" stroke="#4f4f4f" stroke-width="1"/>
<path d="M134.42,414.80 v-3.1" stroke="#4f4f4f" stroke-width="1.0"/>
<text x="134.4" y="430.5" text-anchor="middle">40</text>
<path d="M155.80,414.80 v-1.9" stroke="#4f4f4f" stroke-width="1"/>
<path d="M177.18,414.80 v-3.1" stroke="#4f4f4f" stroke-width="1.0"/>
<text x="177.2" y="430.5" text-anchor="middle">60</text>
<path d="M198.56,414.80 v-1.9" stroke="#4f4f4f" stroke-width="1"/>
<path d="M219.94,414.80 v-3.1" stroke="#4f4f4f" stroke-width="1.0"/>
<text x="219.9" y="430.5" text-anchor="middle">80</text>
<path d="M241.32,414.80 v-1.9" stroke="#4f4f4f" stroke-width="1"/>
<path d="M262.70,414.80 v-3.1" stroke="#4f4f4f" stroke-width="1.0"/>
<text x="262.7" y="430.5" text-anchor="middle">100</text>
<text x="2.8" y="247.5">c)</text>
<text transform="translate(13.3,328.6) rotate(-90)" text-anchor="middle">COF</text>
<text x="155.8" y="447.1" text-anchor="middle" style="font-size:14.5px">Time(ps)</text>
<path d="M173.8,249.5 H203.0" stroke="#00ffff" stroke-width="1.1" stroke-opacity="0.85"/>
<text x="206.30" y="254.30" style="font-size:13.0px;font-style:italic">v</text>
<text x="211.47" y="258.30" style="font-size:9.2px;font-style:italic">x</text>
<circle cx="240.78" cy="243.29" r="0.85" fill="none" stroke="#222" stroke-width="0.55"/>
<text x="215.76" y="254.30" style="font-size:13.0px" xml:space="preserve"> = 3A/ps</text>
<text x="53.2" y="364.8" style="font-size:15px"><tspan font-style="italic">S</tspan><tspan style="font-size:9.5px" dy="4.6" dx="-0.2">I</tspan></text>
<text x="161.2" y="364.8" style="font-size:15px"><tspan font-style="italic">S</tspan><tspan style="font-size:9.5px" dy="4.6" dx="-0.2">II</tspan></text>
<path d="M373.20,242.00 V414.75 H587.70" stroke="#666666" stroke-width="1.50" fill="none" stroke-linecap="butt" stroke-linejoin="miter"/>
<polyline points="373.60,278.67 373.69,275.60 373.77,267.56 373.86,257.63 373.94,249.59 374.03,246.52 374.31,261.53 374.60,300.85 374.88,349.44 375.16,388.75 375.45,403.76 375.73,390.99 376.02,357.55 376.30,316.21 376.58,282.76 376.87,269.99 377.15,282.14 377.44,313.96 377.72,353.29 378.00,385.11 378.29,397.27 378.57,387.14 378.86,360.62 379.14,327.85 379.42,301.33 379.71,291.21 379.99,300.50 380.28,324.84 380.56,354.92 380.85,379.26 381.13,388.55 381.41,379.05 381.70,354.17 381.98,323.41 382.27,298.53 382.55,289.02 382.83,296.71 383.12,316.81 383.40,341.67 383.69,361.78 383.97,369.46 384.25,362.16 384.54,343.04 384.82,319.41 385.11,300.29 385.39,292.99 385.67,300.13 385.96,318.85 386.24,341.98 386.53,360.69 386.81,367.84 387.10,362.24 387.38,347.57 387.66,329.44 387.95,314.78 388.23,309.18 388.52,314.69 388.80,329.14 389.08,346.99 389.37,361.44 389.65,366.95 389.94,362.35 390.22,350.29 390.50,335.38 390.79,323.33 391.07,318.72 391.36,323.13 391.64,334.66 391.92,348.92 392.21,360.46 392.49,364.86 392.78,359.95 393.06,347.09 393.35,331.19 393.63,318.32 393.91,313.41 394.20,316.89 394.48,326.00 394.77,337.27 395.05,346.38 395.33,349.86 395.62,346.43 395.90,337.43 396.19,326.30 396.47,317.31 396.75,313.87 397.04,317.14 397.32,325.71 397.61,336.30 397.89,344.87 398.17,348.14 398.46,345.54 398.74,338.74 399.03,330.33 399.31,323.53 399.60,320.93 399.88,323.83 400.16,331.44 400.45,340.84 400.73,348.45 401.02,351.35 401.30,349.02 401.58,342.90 401.87,335.35 402.15,329.24 402.44,326.90 402.72,329.24 403.00,335.35 403.29,342.90 403.57,349.02 403.86,351.35 404.14,349.01 404.42,342.90 404.71,335.34 404.99,329.22 405.28,326.89 405.56,329.21 405.85,335.31 406.13,342.84 406.41,348.94 406.70,351.27 406.98,348.94 407.27,342.84 407.55,335.31 407.83,329.21 408.12,326.89 408.40,329.08 408.69,334.84 408.97,341.95 409.25,347.71 409.54,349.91 409.82,347.71 410.11,341.95 410.39,334.84 410.67,329.08 410.96,326.89 411.24,328.88 411.53,334.11 411.81,340.56 412.09,345.79 412.38,347.78 412.66,345.79 412.95,340.56 413.23,334.11 413.52,328.88 413.80,326.89 414.08,328.88 414.37,334.11 414.65,340.56 414.94,345.79 415.22,347.78 415.50,345.79 415.79,340.56 416.07,334.11 416.36,328.88 416.64,326.89 416.92,328.94 417.21,334.34 417.49,341.00 417.78,346.39 418.06,348.45 418.34,346.58 418.63,341.67 418.91,335.61 419.20,330.71 419.48,328.84 419.77,330.81 420.05,335.98 420.33,342.38 420.62,347.55 420.90,349.52 421.19,347.60 421.47,342.55 421.75,336.30 422.04,331.25 422.32,329.32 422.61,331.25 422.89,336.30 423.17,342.55 423.46,347.60 423.74,349.52 424.03,347.58 424.31,342.50 424.59,336.21 424.88,331.12 425.16,329.18 425.43,330.66 425.70,334.54 425.96,339.33 426.23,343.21 426.50,344.70 426.74,343.89 426.98,341.76 427.23,339.14 427.47,337.02 427.71,336.21 427.95,336.66 428.19,337.84 428.43,339.29 428.67,340.47 428.91,340.92 429.23,340.05 429.55,337.78 429.87,334.97 430.19,332.69 430.52,331.82 430.86,332.70 431.21,335.00 431.56,337.84 431.91,340.13 432.26,341.01 432.56,340.18 432.87,338.01 433.17,335.33 433.47,333.16 433.78,332.33 434.07,332.94 434.36,334.55 434.65,336.54 434.94,338.15 435.23,338.76 435.60,338.46 435.97,337.67 436.35,336.70 436.72,335.91 437.09,335.61 437.35,335.98 437.60,336.96 437.86,338.16 438.12,339.14 438.37,339.51 438.63,339.12 438.88,338.10 439.13,336.83 439.39,335.81 439.64,335.42 439.90,336.01 440.15,337.54 440.41,339.43 440.66,340.97 440.92,341.55 441.31,341.24 441.71,340.43 442.10,339.43 442.49,338.62 442.88,338.32 443.18,338.62 443.48,339.42 443.78,340.40 444.08,341.20 444.38,341.50 444.77,341.11 445.15,340.09 445.54,338.83 445.92,337.81 446.31,337.42 446.59,337.74 446.87,338.57 447.15,339.60 447.43,340.43 447.71,340.74 447.95,340.27 448.20,339.04 448.44,337.52 448.69,336.29 448.94,335.82 449.31,336.30 449.68,337.55 450.04,339.09 450.41,340.34 450.78,340.82 451.03,340.17 451.27,338.46 451.51,336.35 451.76,334.64 452.00,333.99 452.36,334.97 452.72,337.54 453.07,340.72 453.43,343.29 453.78,344.28 454.07,342.93 454.37,339.41 454.66,335.06 454.95,331.54 455.24,330.20 455.58,331.62 455.92,335.33 456.25,339.92 456.59,343.63 456.93,345.04 457.26,344.04 457.58,341.40 457.91,338.14 458.23,335.51 458.56,334.50 458.87,335.62 459.18,338.55 459.49,342.17 459.80,345.09 460.11,346.21 460.46,345.03 460.81,341.95 461.15,338.14 461.50,335.06 461.85,333.88 462.22,334.81 462.59,337.24 462.96,340.25 463.32,342.68 463.69,343.61 463.94,342.85 464.18,340.88 464.43,338.43 464.68,336.45 464.92,335.70 465.20,335.96 465.47,336.64 465.74,337.48 466.02,338.16 466.29,338.42 466.65,338.00 467.01,336.89 467.37,335.53 467.73,334.43 468.08,334.01 468.41,334.78 468.73,336.80 469.06,339.29 469.38,341.31 469.71,342.08 470.01,341.43 470.30,339.71 470.60,337.59 470.89,335.88 471.19,335.23 471.44,335.73 471.70,337.05 471.96,338.68 472.21,340.01 472.47,340.51 472.84,339.94 473.21,338.44 473.58,336.59 473.96,335.09 474.33,334.52 474.58,335.29 474.82,337.30 475.07,339.78 475.32,341.79 475.57,342.56 475.82,341.82 476.06,339.90 476.31,337.53 476.55,335.60 476.80,334.87 477.06,335.76 477.32,338.09 477.57,340.97 477.83,343.30 478.09,344.18 478.43,343.20 478.77,340.62 479.11,337.43 479.45,334.85 479.79,333.87 480.13,334.80 480.47,337.26 480.81,340.29 481.14,342.75 481.48,343.69 481.82,342.90 482.16,340.84 482.50,338.30 482.85,336.24 483.19,335.45 483.43,336.16 483.67,338.01 483.91,340.30 484.15,342.15 484.39,342.86 484.73,342.03 485.08,339.86 485.43,337.17 485.78,335.00 486.13,334.17 486.40,335.30 486.67,338.27 486.93,341.93 487.20,344.89 487.47,346.02 487.84,345.08 488.21,342.62 488.59,339.58 488.96,337.12 489.33,336.18 489.72,336.97 490.11,339.02 490.50,341.56 490.89,343.61 491.28,344.39 491.53,343.50 491.78,341.16 492.03,338.27 492.28,335.93 492.53,335.04 492.91,335.91 493.28,338.19 493.66,341.01 494.03,343.29 494.41,344.16 494.74,343.15 495.06,340.53 495.39,337.28 495.71,334.65 496.04,333.65 496.32,334.45 496.61,336.56 496.89,339.17 497.17,341.28 497.46,342.08 497.76,341.20 498.06,338.88 498.37,336.01 498.67,333.70 498.97,332.81 499.36,333.43 499.75,335.06 500.14,337.07 500.53,338.70 500.91,339.32 501.19,338.60 501.47,336.72 501.75,334.38 502.03,332.50 502.31,331.77 502.65,332.56 502.99,334.61 503.34,337.15 503.68,339.20 504.02,339.99 504.33,339.35 504.64,337.68 504.95,335.61 505.26,333.94 505.57,333.30 505.95,333.96 506.34,335.71 506.72,337.86 507.10,339.61 507.49,340.28 507.87,339.69 508.25,338.15 508.63,336.25 509.02,334.71 509.40,334.12 509.68,334.82 509.96,336.66 510.25,338.93 510.53,340.76 510.81,341.46 511.18,340.91 511.55,339.46 511.92,337.68 512.29,336.23 512.66,335.68 513.01,336.20 513.36,337.56 513.71,339.24 514.06,340.60 514.41,341.12 514.66,340.53 514.91,338.98 515.16,337.06 515.41,335.51 515.66,334.92 515.97,335.31 516.27,336.35 516.58,337.63 516.88,338.66 517.19,339.06 517.57,338.51 517.96,337.08 518.35,335.32 518.74,333.89 519.13,333.34 519.41,334.27 519.68,336.71 519.96,339.73 520.23,342.18 520.51,343.11 520.83,342.13 521.15,339.57 521.48,336.41 521.80,333.85 522.12,332.87 522.41,333.87 522.70,336.49 522.99,339.72 523.28,342.34 523.57,343.34 523.96,342.64 524.34,340.80 524.72,338.52 525.11,336.68 525.49,335.98 525.87,336.81 526.26,338.99 526.64,341.68 527.02,343.85 527.41,344.68 527.75,343.33 528.10,339.78 528.45,335.40 528.80,331.85 529.14,330.49 529.44,331.85 529.74,335.40 530.04,339.78 530.34,343.33 530.64,344.68 531.00,343.34 531.35,339.81 531.71,335.45 532.07,331.93 532.43,330.58 532.74,331.50 533.05,333.90 533.36,336.86 533.67,339.26 533.98,340.18 534.32,339.44 534.67,337.50 535.02,335.09 535.37,333.15 535.72,332.41 535.96,333.20 536.20,335.27 536.44,337.83 536.68,339.90 536.92,340.69 537.24,340.30 537.56,339.25 537.89,337.97 538.21,336.93 538.54,336.53 538.79,336.93 539.05,337.96 539.31,339.24 539.57,340.28 539.83,340.67 540.07,340.36 540.31,339.54 540.55,338.53 540.80,337.71 541.04,337.40 541.34,337.79 541.64,338.81 541.94,340.08 542.24,341.10 542.54,341.50 542.88,340.89 543.22,339.30 543.56,337.34 543.90,335.75 544.24,335.14 544.50,336.00 544.76,338.26 545.02,341.06 545.28,343.32 545.54,344.18 545.88,342.90 546.22,339.55 546.55,335.41 546.89,332.06 547.23,330.78 547.58,331.76 547.93,334.35 548.28,337.54 548.63,340.13 548.97,341.11 549.31,340.22 549.64,337.88 549.97,334.99 550.31,332.65 550.64,331.76 550.98,332.97 551.32,336.15 551.67,340.08 552.01,343.25 552.35,344.47 552.59,343.12 552.83,339.60 553.08,335.26 553.32,331.74 553.56,330.39 553.82,331.59 554.07,334.72 554.33,338.60 554.59,341.73 554.84,342.93 555.10,341.90 555.35,339.22 555.60,335.91 555.85,333.23 556.10,332.21 556.47,333.43 556.85,336.63 557.22,340.58 557.60,343.78 557.97,345.00 558.24,343.84 558.50,340.80 558.76,337.04 559.03,334.00 559.29,332.84 559.68,333.96 560.07,336.91 560.46,340.56 560.85,343.51 561.23,344.63 561.60,343.51 561.97,340.57 562.34,336.93 562.71,333.99 563.08,332.86 563.37,333.53 563.65,335.28 563.93,337.45 564.21,339.20 564.50,339.87 564.78,339.06 565.06,336.96 565.34,334.35 565.62,332.25 565.90,331.44 566.26,332.57 566.63,335.53 567.00,339.18 567.36,342.13 567.73,343.26 567.99,342.28 568.26,339.69 568.52,336.50 568.79,333.92 569.06,332.93 569.37,334.04 569.68,336.96 569.99,340.56 570.30,343.47 570.61,344.59 570.92,343.25 571.24,339.77 571.55,335.46 571.86,331.97 572.18,330.64 572.52,331.98 572.87,335.49 573.22,339.83 573.57,343.34 573.92,344.68 574.24,343.58 574.55,340.71 574.87,337.16 575.19,334.29 575.51,333.20 575.82,334.26 576.13,337.03 576.44,340.46 576.75,343.24 577.06,344.30 577.35,343.40 577.63,341.06 577.91,338.16 578.19,335.82 578.48,334.92 578.85,335.49 579.22,337.00 579.59,338.85 579.96,340.35 580.34,340.93 580.68,340.45 581.02,339.20 581.36,337.66 581.70,336.41 582.04,335.93 582.29,336.30 582.53,337.28 582.78,338.48 583.02,339.46 583.27,339.83 583.57,339.52 583.88,338.72 584.19,337.73 584.49,336.92 584.80,336.61 585.08,337.13 585.36,338.49 585.65,340.17 585.93,341.53 586.21,342.05 586.41,341.54 586.61,340.18 586.80,338.51 587.00,337.15 587.20,336.64" fill="none" stroke="#00ff00" stroke-width="0.85" stroke-linejoin="miter" stroke-miterlimit="3"/>
<path d="M373.6,325.5 H586.5" stroke="#484848" stroke-width="1.15" stroke-dasharray="3.3,2.55" fill="none"/>
<path d="M373.6,353.5 H586.5" stroke="#484848" stroke-width="1.15" stroke-dasharray="3.3,2.55" fill="none"/>
<path d="M401.5,325.5 V374.7" stroke="#484848" stroke-width="1.15" stroke-dasharray="3.3,2.55" fill="none"/>
<path d="M586.5,325.5 V373.5" stroke="#484848" stroke-width="1.15" stroke-dasharray="3.3,2.55" fill="none"/>
<path d="M373.60,414.75 h2.9" stroke="#4f4f4f" stroke-width="1.0"/>
<text x="369.4" y="419.9" text-anchor="end">-0.24</text>
<path d="M373.60,397.52 h1.9" stroke="#4f4f4f" stroke-width="1"/>
<path d="M373.60,380.30 h2.9" stroke="#4f4f4f" stroke-width="1.0"/>
<text x="369.4" y="385.4" text-anchor="end">-0.12</text>
<path d="M373.60,363.07 h1.9" stroke="#4f4f4f" stroke-width="1"/>
<path d="M373.60,345.85 h2.9" stroke="#4f4f4f" stroke-width="1.0"/>
<text x="369.4" y="351.0" text-anchor="end">0.00</text>
<path d="M373.60,328.62 h1.9" stroke="#4f4f4f" stroke-width="1"/>
<path d="M373.60,311.40 h2.9" stroke="#4f4f4f" stroke-width="1.0"/>
<text x="369.4" y="316.5" text-anchor="end">0.12</text>
<path d="M373.60,294.18 h1.9" stroke="#4f4f4f" stroke-width="1"/>
<path d="M373.60,276.95 h2.9" stroke="#4f4f4f" stroke-width="1.0"/>
<text x="369.4" y="282.1" text-anchor="end">0.24</text>
<path d="M373.60,259.72 h1.9" stroke="#4f4f4f" stroke-width="1"/>
<path d="M373.60,242.50 h2.9" stroke="#4f4f4f" stroke-width="1.0"/>
<text x="369.4" y="247.6" text-anchor="end">0.36</text>
<path d="M373.60,414.75 v-3.1" stroke="#4f4f4f" stroke-width="1.0"/>
<text x="373.6" y="430.4" text-anchor="middle">0</text>
<path d="M394.96,414.75 v-1.9" stroke="#4f4f4f" stroke-width="1"/>
<path d="M416.32,414.75 v-3.1" stroke="#4f4f4f" stroke-width="1.0"/>
<text x="416.3" y="430.4" text-anchor="middle">20</text>
<path d="M437.68,414.75 v-1.9" stroke="#4f4f4f" stroke-width="1"/>
<path d="M459.04,414.75 v-3.1" stroke="#4f4f4f" stroke-width="1.0"/>
<text x="459.0" y="430.4" text-anchor="middle">40</text>
<path d="M480.40,414.75 v-1.9" stroke="#4f4f4f" stroke-width="1"/>
<path d="M501.76,414.75 v-3.1" stroke="#4f4f4f" stroke-width="1.0"/>
<text x="501.8" y="430.4" text-anchor="middle">60</text>
<path d="M523.12,414.75 v-1.9" stroke="#4f4f4f" stroke-width="1"/>
<path d="M544.48,414.75 v-3.1" stroke="#4f4f4f" stroke-width="1.0"/>
<text x="544.5" y="430.4" text-anchor="middle">80</text>
<path d="M565.84,414.75 v-1.9" stroke="#4f4f4f" stroke-width="1"/>
<path d="M587.20,414.75 v-3.1" stroke="#4f4f4f" stroke-width="1.0"/>
<text x="587.2" y="430.4" text-anchor="middle">100</text>
<text x="328.0" y="247.5">d)</text>
<text transform="translate(337.4,328.6) rotate(-90)" text-anchor="middle">COF</text>
<text x="480.4" y="447.1" text-anchor="middle" style="font-size:14.5px">Time(ps)</text>
<path d="M500.0,249.0 H529.0" stroke="#00ff00" stroke-width="1.1" stroke-opacity="0.85"/>
<text x="532.40" y="253.80" style="font-size:13.0px;font-style:italic">v</text>
<text x="537.57" y="257.80" style="font-size:9.2px;font-style:italic">x</text>
<circle cx="566.88" cy="242.79" r="0.85" fill="none" stroke="#222" stroke-width="0.55"/>
<text x="541.86" y="253.80" style="font-size:13.0px" xml:space="preserve"> = 4A/ps</text>
<text x="385.9" y="369.0" style="font-size:15px"><tspan font-style="italic">S</tspan><tspan style="font-size:9.5px" dy="4.6" dx="-0.2">I</tspan></text>
<text x="481.1" y="369.0" style="font-size:15px"><tspan font-style="italic">S</tspan><tspan style="font-size:9.5px" dy="4.6" dx="-0.2">II</tspan></text>
<path d="M48.60,481.70 V654.20 H263.00" stroke="#666666" stroke-width="1.50" fill="none" stroke-linecap="butt" stroke-linejoin="miter"/>
<polyline points="48.90,516.60 48.99,513.75 49.07,506.30 49.16,497.09 49.24,489.63 49.33,486.79 49.61,502.12 49.90,542.25 50.18,591.86 50.46,631.99 50.75,647.32 51.03,634.86 51.32,602.25 51.60,561.93 51.88,529.32 52.17,516.86 52.45,529.32 52.74,561.93 53.02,602.25 53.30,634.86 53.59,647.32 53.87,635.97 54.16,606.25 54.44,569.52 54.72,539.80 55.01,528.45 55.29,538.02 55.58,563.07 55.86,594.03 56.15,619.09 56.43,628.65 56.71,619.02 57.00,593.78 57.28,562.59 57.57,537.36 57.85,527.72 58.13,535.55 58.42,556.03 58.70,581.35 58.99,601.84 59.27,609.66 59.55,602.34 59.84,583.15 60.12,559.43 60.41,540.24 60.69,532.91 60.97,540.07 61.26,558.81 61.54,581.98 61.83,600.73 62.11,607.89 62.40,601.77 62.68,585.74 62.96,565.93 63.25,549.91 63.53,543.78 63.82,549.95 64.10,566.08 64.38,586.01 64.67,602.14 64.95,608.31 65.24,603.53 65.52,591.04 65.80,575.60 66.09,563.11 66.37,558.34 66.66,562.88 66.94,574.78 67.22,589.48 67.51,601.37 67.79,605.92 68.08,601.14 68.36,588.63 68.65,573.16 68.93,560.65 69.21,555.87 69.50,559.85 69.78,570.25 70.07,583.11 70.35,593.51 70.63,597.49 70.92,593.76 71.20,583.99 71.49,571.92 71.77,562.16 72.05,558.43 72.34,561.88 72.62,570.91 72.91,582.08 73.19,591.11 73.47,594.56 73.76,591.05 74.04,581.85 74.33,570.48 74.61,561.28 74.90,557.77 75.18,561.03 75.46,569.58 75.75,580.14 76.03,588.68 76.32,591.95 76.60,589.31 76.88,582.41 77.17,573.87 77.45,566.97 77.74,564.33 78.02,567.04 78.30,574.14 78.59,582.91 78.87,590.00 79.16,592.71 79.44,590.38 79.72,584.26 80.01,576.69 80.29,570.58 80.58,568.24 80.86,570.20 81.15,575.32 81.43,581.66 81.71,586.79 82.00,588.74 82.28,586.86 82.57,581.95 82.85,575.86 83.13,570.94 83.42,569.07 83.70,570.84 83.99,575.48 84.27,581.21 84.55,585.85 84.84,587.63 85.12,585.87 85.41,581.27 85.69,575.58 85.97,570.98 86.26,569.22 86.54,570.98 86.83,575.58 87.11,581.27 87.39,585.87 87.68,587.63 87.96,585.91 88.25,581.41 88.53,575.84 88.82,571.34 89.10,569.62 89.38,571.21 89.67,575.36 89.95,580.49 90.24,584.65 90.52,586.23 90.80,584.71 91.09,580.71 91.37,575.78 91.66,571.79 91.94,570.26 92.22,571.75 92.51,575.66 92.79,580.49 93.08,584.40 93.36,585.89 93.64,584.40 93.93,580.49 94.21,575.66 94.50,571.75 94.78,570.26 95.07,571.75 95.35,575.66 95.63,580.49 95.92,584.40 96.20,585.89 96.49,584.40 96.77,580.49 97.05,575.66 97.34,571.75 97.62,570.26 97.91,571.49 98.19,574.72 98.47,578.71 98.76,581.94 99.04,583.17 99.40,582.17 99.76,579.56 100.11,576.34 100.47,573.72 100.82,572.73 101.18,573.59 101.54,575.84 101.90,578.63 102.25,580.89 102.61,581.75 102.91,581.01 103.20,579.07 103.50,576.67 103.79,574.73 104.08,573.99 104.48,574.80 104.87,576.92 105.26,579.55 105.65,581.68 106.05,582.49 106.37,581.73 106.69,579.74 107.02,577.27 107.34,575.28 107.67,574.51 107.97,575.29 108.28,577.31 108.58,579.81 108.88,581.83 109.18,582.61 109.49,581.81 109.80,579.72 110.11,577.13 110.41,575.04 110.72,574.24 111.06,575.06 111.40,577.19 111.74,579.82 112.07,581.95 112.41,582.76 112.66,581.98 112.90,579.94 113.15,577.41 113.39,575.36 113.64,574.58 113.99,575.43 114.34,577.66 114.69,580.42 115.04,582.65 115.39,583.50 115.77,582.86 116.14,581.18 116.51,579.10 116.88,577.43 117.25,576.78 117.53,577.42 117.81,579.10 118.08,581.17 118.36,582.84 118.63,583.48 118.99,582.67 119.35,580.55 119.70,577.93 120.06,575.81 120.42,575.00 120.78,575.73 121.14,577.63 121.50,579.98 121.86,581.88 122.22,582.60 122.51,581.52 122.79,578.67 123.08,575.15 123.37,572.30 123.66,571.21 123.91,572.48 124.17,575.80 124.42,579.91 124.68,583.24 124.93,584.51 125.22,583.35 125.51,580.34 125.80,576.61 126.09,573.60 126.38,572.45 126.65,573.42 126.92,575.97 127.19,579.12 127.46,581.66 127.73,582.64 128.10,581.68 128.48,579.16 128.85,576.05 129.22,573.53 129.59,572.57 129.92,573.63 130.25,576.42 130.57,579.86 130.90,582.64 131.23,583.71 131.51,582.83 131.80,580.54 132.09,577.70 132.37,575.41 132.66,574.53 133.01,575.48 133.36,577.95 133.71,581.01 134.06,583.49 134.41,584.44 134.72,583.23 135.04,580.08 135.35,576.18 135.66,573.03 135.98,571.82 136.23,573.19 136.49,576.77 136.74,581.19 137.00,584.77 137.25,586.14 137.63,585.00 138.01,582.04 138.39,578.37 138.77,575.41 139.16,574.27 139.52,575.43 139.89,578.47 140.26,582.22 140.63,585.25 141.00,586.41 141.28,585.15 141.57,581.86 141.86,577.79 142.14,574.50 142.43,573.25 142.68,574.34 142.93,577.22 143.18,580.78 143.44,583.65 143.69,584.75 144.00,583.47 144.31,580.10 144.62,575.94 144.93,572.58 145.24,571.29 145.56,572.64 145.87,576.18 146.19,580.56 146.50,584.10 146.82,585.45 147.07,584.23 147.33,581.04 147.59,577.10 147.85,573.91 148.11,572.69 148.44,573.89 148.76,577.05 149.09,580.96 149.42,584.11 149.75,585.32 150.01,584.19 150.28,581.22 150.55,577.55 150.81,574.59 151.08,573.45 151.47,574.81 151.87,578.38 152.26,582.78 152.66,586.35 153.05,587.71 153.40,586.40 153.76,582.97 154.11,578.72 154.47,575.29 154.82,573.98 155.13,575.27 155.43,578.65 155.74,582.83 156.04,586.21 156.35,587.50 156.68,585.99 157.00,582.02 157.33,577.11 157.66,573.14 157.99,571.63 158.23,573.12 158.48,577.04 158.72,581.88 158.97,585.80 159.21,587.29 159.48,585.95 159.75,582.45 160.02,578.12 160.29,574.61 160.56,573.27 160.88,574.56 161.21,577.93 161.53,582.10 161.85,585.47 162.18,586.75 162.48,585.53 162.78,582.31 163.09,578.33 163.39,575.12 163.69,573.89 163.96,575.00 164.24,577.90 164.51,581.50 164.78,584.40 165.05,585.51 165.33,584.44 165.61,581.62 165.89,578.14 166.16,575.33 166.44,574.25 166.79,575.24 167.14,577.83 167.48,581.03 167.83,583.62 168.18,584.61 168.49,583.62 168.80,581.04 169.11,577.85 169.41,575.26 169.72,574.28 169.96,575.35 170.20,578.16 170.45,581.63 170.69,584.44 170.93,585.51 171.25,584.57 171.58,582.11 171.91,579.07 172.24,576.61 172.56,575.67 172.84,576.31 173.12,578.01 173.40,580.10 173.68,581.79 173.96,582.44 174.30,581.95 174.64,580.67 174.98,579.10 175.32,577.82 175.66,577.33 175.92,577.72 176.18,578.75 176.44,580.01 176.69,581.04 176.95,581.43 177.33,581.07 177.71,580.13 178.09,578.96 178.46,578.02 178.84,577.66 179.16,578.09 179.48,579.22 179.80,580.61 180.12,581.74 180.44,582.17 180.72,581.59 180.99,580.08 181.26,578.21 181.54,576.69 181.81,576.11 182.13,576.73 182.44,578.35 182.76,580.35 183.07,581.97 183.38,582.59 183.66,582.02 183.93,580.52 184.20,578.68 184.47,577.18 184.74,576.61 185.04,577.02 185.33,578.08 185.63,579.39 185.93,580.46 186.22,580.86 186.53,580.48 186.83,579.46 187.14,578.21 187.45,577.20 187.75,576.81 188.06,577.41 188.36,578.98 188.66,580.92 188.96,582.49 189.26,583.09 189.55,582.55 189.84,581.11 190.13,579.34 190.42,577.91 190.71,577.37 191.07,577.93 191.43,579.42 191.79,581.26 192.14,582.75 192.50,583.32 192.74,582.35 192.99,579.81 193.23,576.67 193.47,574.12 193.72,573.15 194.07,574.18 194.42,576.86 194.78,580.18 195.13,582.87 195.49,583.90 195.86,583.06 196.22,580.89 196.59,578.19 196.96,576.02 197.33,575.18 197.70,575.86 198.08,577.63 198.45,579.81 198.82,581.58 199.19,582.26 199.57,581.31 199.94,578.82 200.32,575.75 200.69,573.26 201.07,572.31 201.40,573.26 201.72,575.75 202.05,578.82 202.38,581.30 202.70,582.25 203.06,581.11 203.41,578.14 203.77,574.46 204.13,571.49 204.48,570.35 204.80,571.26 205.12,573.65 205.44,576.60 205.76,578.99 206.08,579.90 206.37,579.03 206.67,576.76 206.96,573.96 207.26,571.69 207.55,570.82 207.79,572.03 208.03,575.19 208.28,579.09 208.52,582.25 208.76,583.46 209.14,582.27 209.53,579.16 209.91,575.31 210.29,572.20 210.68,571.02 210.96,572.14 211.24,575.08 211.52,578.72 211.80,581.66 212.08,582.79 212.41,581.73 212.74,578.95 213.07,575.51 213.40,572.73 213.73,571.67 214.01,572.88 214.30,576.03 214.58,579.93 214.86,583.09 215.15,584.29 215.54,583.18 215.94,580.27 216.34,576.67 216.73,573.76 217.13,572.65 217.45,573.40 217.78,575.36 218.10,577.78 218.43,579.73 218.75,580.48 219.07,579.97 219.38,578.64 219.70,577.00 220.01,575.68 220.33,575.17 220.72,575.95 221.11,578.00 221.50,580.53 221.89,582.57 222.28,583.35 222.62,582.29 222.95,579.51 223.29,576.07 223.62,573.29 223.96,572.23 224.20,573.45 224.45,576.67 224.69,580.65 224.94,583.87 225.18,585.10 225.53,584.23 225.88,581.95 226.23,579.13 226.58,576.85 226.93,575.98 227.31,576.93 227.70,579.42 228.08,582.50 228.47,584.99 228.85,585.94 229.25,585.09 229.64,582.84 230.04,580.07 230.44,577.82 230.83,576.96 231.22,577.82 231.60,580.08 231.98,582.87 232.37,585.13 232.75,585.99 233.03,585.09 233.31,582.75 233.59,579.86 233.87,577.51 234.15,576.62 234.50,577.10 234.84,578.35 235.19,579.90 235.53,581.15 235.88,581.63 236.21,580.67 236.53,578.15 236.86,575.04 237.18,572.52 237.51,571.56 237.81,572.55 238.11,575.13 238.41,578.32 238.72,580.91 239.02,581.89 239.32,581.43 239.63,580.22 239.93,578.73 240.24,577.52 240.54,577.05 240.79,577.50 241.04,578.65 241.29,580.08 241.54,581.24 241.79,581.68 242.15,581.14 242.52,579.72 242.89,577.96 243.26,576.54 243.63,575.99 243.88,576.49 244.14,577.79 244.40,579.40 244.65,580.71 244.91,581.20 245.27,580.84 245.64,579.90 246.01,578.74 246.38,577.80 246.75,577.44 247.11,577.98 247.47,579.39 247.83,581.14 248.19,582.55 248.55,583.09 248.93,582.28 249.30,580.18 249.68,577.58 250.05,575.47 250.43,574.67 250.78,575.70 251.14,578.40 251.49,581.73 251.85,584.43 252.20,585.46 252.46,584.48 252.72,581.90 252.99,578.71 253.25,576.13 253.51,575.15 253.86,575.98 254.22,578.15 254.57,580.83 254.93,583.00 255.28,583.83 255.65,582.73 256.01,579.86 256.37,576.32 256.73,573.45 257.09,572.35 257.44,573.45 257.80,576.33 258.15,579.90 258.50,582.78 258.86,583.88 259.21,582.78 259.57,579.90 259.92,576.33 260.27,573.45 260.63,572.35 260.88,573.08 261.14,575.01 261.39,577.39 261.64,579.31 261.90,580.04 262.02,579.64 262.14,578.58 262.26,577.28 262.38,576.22 262.50,575.82" fill="none" stroke="#ff00ff" stroke-width="0.85" stroke-linejoin="miter" stroke-miterlimit="3"/>
<path d="M48.9,568.5 H262.5" stroke="#484848" stroke-width="1.15" stroke-dasharray="3.3,2.55" fill="none"/>
<path d="M48.9,588.5 H262.5" stroke="#484848" stroke-width="1.15" stroke-dasharray="3.3,2.55" fill="none"/>
<path d="M81.5,568.5 V616.5" stroke="#484848" stroke-width="1.15" stroke-dasharray="3.3,2.55" fill="none"/>
<path d="M262.5,568.5 V614.0" stroke="#484848" stroke-width="1.15" stroke-dasharray="3.3,2.55" fill="none"/>
<path d="M48.90,654.20 h2.9" stroke="#4f4f4f" stroke-width="1.0"/>
<text x="44.6" y="659.3" text-anchor="end">-0.30</text>
<path d="M48.90,637.00 h1.9" stroke="#4f4f4f" stroke-width="1"/>
<path d="M48.90,619.80 h2.9" stroke="#4f4f4f" stroke-width="1.0"/>
<text x="44.6" y="624.9" text-anchor="end">-0.15</text>
<path d="M48.90,602.60 h1.9" stroke="#4f4f4f" stroke-width="1"/>
<path d="M48.90,585.40 h2.9" stroke="#4f4f4f" stroke-width="1.0"/>
<text x="44.6" y="590.5" text-anchor="end">0.00</text>
<path d="M48.90,568.20 h1.9" stroke="#4f4f4f" stroke-width="1"/>
<path d="M48.90,551.00 h2.9" stroke="#4f4f4f" stroke-width="1.0"/>
<text x="44.6" y="556.1" text-anchor="end">0.15</text>
<path d="M48.90,533.80 h1.9" stroke="#4f4f4f" stroke-width="1"/>
<path d="M48.90,516.60 h2.9" stroke="#4f4f4f" stroke-width="1.0"/>
<text x="44.6" y="521.7" text-anchor="end">0.30</text>
<path d="M48.90,499.40 h1.9" stroke="#4f4f4f" stroke-width="1"/>
<path d="M48.90,482.20 h2.9" stroke="#4f4f4f" stroke-width="1.0"/>
<text x="44.6" y="487.3" text-anchor="end">0.45</text>
<path d="M48.90,654.20 v-3.1" stroke="#4f4f4f" stroke-width="1.0"/>
<text x="48.9" y="669.9" text-anchor="middle">0</text>
<path d="M70.26,654.20 v-1.9" stroke="#4f4f4f" stroke-width="1"/>
<path d="M91.62,654.20 v-3.1" stroke="#4f4f4f" stroke-width="1.0"/>
<text x="91.6" y="669.9" text-anchor="middle">20</text>
<path d="M112.98,654.20 v-1.9" stroke="#4f4f4f" stroke-width="1"/>
<path d="M134.34,654.20 v-3.1" stroke="#4f4f4f" stroke-width="1.0"/>
<text x="134.3" y="669.9" text-anchor="middle">40</text>
<path d="M155.70,654.20 v-1.9" stroke="#4f4f4f" stroke-width="1"/>
<path d="M177.06,654.20 v-3.1" stroke="#4f4f4f" stroke-width="1.0"/>
<text x="177.1" y="669.9" text-anchor="middle">60</text>
<path d="M198.42,654.20 v-1.9" stroke="#4f4f4f" stroke-width="1"/>
<path d="M219.78,654.20 v-3.1" stroke="#4f4f4f" stroke-width="1.0"/>
<text x="219.8" y="669.9" text-anchor="middle">80</text>
<path d="M241.14,654.20 v-1.9" stroke="#4f4f4f" stroke-width="1"/>
<path d="M262.50,654.20 v-3.1" stroke="#4f4f4f" stroke-width="1.0"/>
<text x="262.5" y="669.9" text-anchor="middle">100</text>
<text x="2.8" y="487.2">e)</text>
<text transform="translate(13.1,568.2) rotate(-90)" text-anchor="middle">COF</text>
<text x="155.7" y="686.5" text-anchor="middle" style="font-size:14.5px">Time(ps)</text>
<path d="M177.9,489.5 H206.9" stroke="#ff00ff" stroke-width="1.1" stroke-opacity="0.85"/>
<text x="209.50" y="494.30" style="font-size:13.0px;font-style:italic">v</text>
<text x="214.67" y="498.30" style="font-size:9.2px;font-style:italic">x</text>
<circle cx="240.73" cy="483.29" r="0.85" fill="none" stroke="#222" stroke-width="0.55"/>
<text x="218.96" y="494.30" style="font-size:13.0px" xml:space="preserve">= 5A/ps</text>
<text x="63.9" y="609.5" style="font-size:15px"><tspan font-style="italic">S</tspan><tspan style="font-size:9.5px" dy="4.6" dx="-0.2">I</tspan></text>
<text x="155.1" y="609.5" style="font-size:15px"><tspan font-style="italic">S</tspan><tspan style="font-size:9.5px" dy="4.6" dx="-0.2">II</tspan></text>
<path d="M374.00,481.50 V652.60 H585.50" stroke="#666666" stroke-width="1.50" fill="none" stroke-linecap="butt" stroke-linejoin="miter"/>
<path d="M374.00,652.60 h3.6" stroke="#4f4f4f" stroke-width="1.0"/>
<text x="369.8" y="657.7" text-anchor="end">0.018</text>
<path d="M374.00,635.54 h2.1" stroke="#4f4f4f" stroke-width="1"/>
<path d="M374.00,618.48 h3.6" stroke="#4f4f4f" stroke-width="1.0"/>
<text x="369.8" y="623.6" text-anchor="end">0.020</text>
<path d="M374.00,601.42 h2.1" stroke="#4f4f4f" stroke-width="1"/>
<path d="M374.00,584.36 h3.6" stroke="#4f4f4f" stroke-width="1.0"/>
<text x="369.8" y="589.5" text-anchor="end">0.022</text>
<path d="M374.00,567.30 h2.1" stroke="#4f4f4f" stroke-width="1"/>
<path d="M374.00,550.24 h3.6" stroke="#4f4f4f" stroke-width="1.0"/>
<text x="369.8" y="555.3" text-anchor="end">0.024</text>
<path d="M374.00,533.18 h2.1" stroke="#4f4f4f" stroke-width="1"/>
<path d="M374.00,516.12 h3.6" stroke="#4f4f4f" stroke-width="1.0"/>
<text x="369.8" y="521.2" text-anchor="end">0.026</text>
<path d="M374.00,499.06 h2.1" stroke="#4f4f4f" stroke-width="1"/>
<path d="M374.00,482.00 h3.6" stroke="#4f4f4f" stroke-width="1.0"/>
<text x="369.8" y="487.1" text-anchor="end">0.028</text>
<path d="M396.89,652.60 v-3.8" stroke="#4f4f4f" stroke-width="1.0"/>
<text x="396.9" y="667.5" text-anchor="middle">1</text>
<path d="M419.77,652.60 v-2.1" stroke="#4f4f4f" stroke-width="1"/>
<path d="M442.66,652.60 v-3.8" stroke="#4f4f4f" stroke-width="1.0"/>
<text x="442.7" y="667.5" text-anchor="middle">2</text>
<path d="M465.54,652.60 v-2.1" stroke="#4f4f4f" stroke-width="1"/>
<path d="M488.43,652.60 v-3.8" stroke="#4f4f4f" stroke-width="1.0"/>
<text x="488.4" y="667.5" text-anchor="middle">3</text>
<path d="M511.31,652.60 v-2.1" stroke="#4f4f4f" stroke-width="1"/>
<path d="M534.20,652.60 v-3.8" stroke="#4f4f4f" stroke-width="1.0"/>
<text x="534.2" y="667.5" text-anchor="middle">4</text>
<path d="M557.08,652.60 v-2.1" stroke="#4f4f4f" stroke-width="1"/>
<path d="M579.97,652.60 v-3.8" stroke="#4f4f4f" stroke-width="1.0"/>
<text x="580.0" y="667.5" text-anchor="middle">5</text>
<text x="326.7" y="487.0">f)</text>
<text transform="translate(337.4,567.3) rotate(-90)" text-anchor="middle">COF</text>
<text x="456.00" y="683.30" style="font-size:14.3px;font-style:italic">v</text>
<text x="461.75" y="687.30" style="font-size:9.2px;font-style:italic">x</text>
<circle cx="475.96" cy="671.43" r="0.85" fill="none" stroke="#222" stroke-width="0.55"/>
<text x="466.03" y="683.30" style="font-size:14.3px" xml:space="preserve">(A/ps)</text>
<path d="M536.2,489.4 H545.7 M552.1,489.4 H561.6" stroke="#ffa64d" stroke-width="1.1"/>
<rect x="547.1" y="487.6" width="3.6" height="3.6" fill="#ff7f0e"/>
<text x="568.3" y="494.2" style="font-size:14px"><tspan font-style="italic">S</tspan><tspan style="font-size:8.8px" dy="4.0" dx="-0.3">II</tspan></text>
<polyline points="396.89,620.53 442.66,580.95 488.43,550.58 534.20,525.50 579.97,503.84" fill="none" stroke="#ffa64d" stroke-width="1.1"/>
<rect x="394.99" y="618.63" width="3.8" height="3.8" fill="#ff7f0e"/>
<rect x="440.76" y="579.05" width="3.8" height="3.8" fill="#ff7f0e"/>
<rect x="486.53" y="548.68" width="3.8" height="3.8" fill="#ff7f0e"/>
<rect x="532.30" y="523.60" width="3.8" height="3.8" fill="#ff7f0e"/>
<rect x="578.07" y="501.94" width="3.8" height="3.8" fill="#ff7f0e"/>
</svg>
</body></html>
